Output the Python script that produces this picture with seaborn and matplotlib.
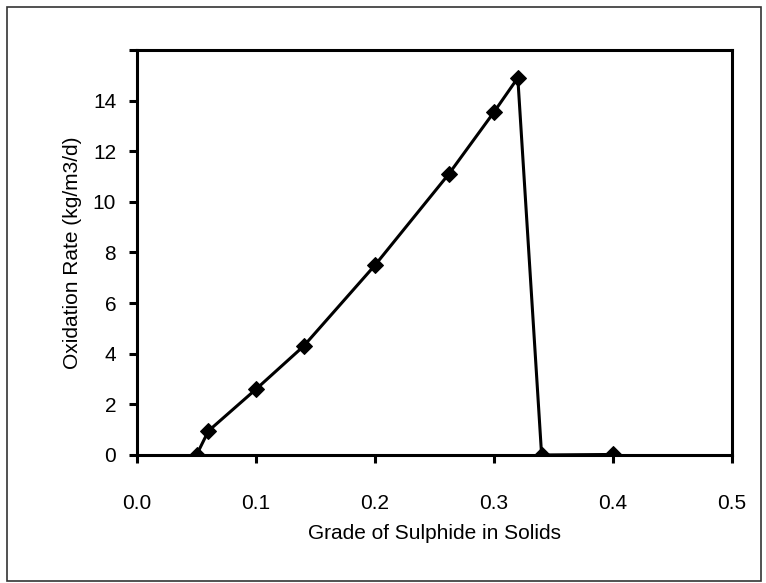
import numpy as np
import pandas as pd
import matplotlib
matplotlib.use('Agg')
import matplotlib.pyplot as plt
import matplotlib.patches as patches
import seaborn as sns

# values
grade = [0.05, 0.06, 0.10, 0.14, 0.20, 0.262, 0.30, 0.32, 0.34, 0.40]
rate = [0.0, 0.95, 2.6, 4.3, 7.5, 11.1, 13.55, 14.9, 0.0, 0.02]
xticks = [0.0, 0.1, 0.2, 0.3, 0.4, 0.5]
yticks = [0, 2, 4, 6, 8, 10, 12, 14, 16]
ytick_labels = ['0', '2', '4', '6', '8', '10', '12', '14', '']

df = pd.DataFrame({'grade': grade, 'rate': rate})

sns.set_style("white")
plt.rcParams['font.family'] = ['Liberation Sans', 'DejaVu Sans']
plt.rcParams['text.color'] = 'black'
plt.rcParams['axes.labelcolor'] = 'black'

fig = plt.figure(figsize=(7.66, 5.83), dpi=100)
ax = fig.add_axes([0.1789, 0.2196, 0.9556 - 0.1789, 0.9142 - 0.2196])

sns.lineplot(data=df, x='grade', y='rate', sort=False, estimator=None,
             color='black', linewidth=2.2, marker='D', markersize=8,
             markeredgecolor='black', ax=ax)

ax.set_xlim(0, 0.5)
ax.set_ylim(0, 16)
ax.set_xticks(xticks)
ax.set_xticklabels(['%.1f' % t for t in xticks])
ax.set_yticks(yticks)
ax.set_yticklabels(ytick_labels)

for loc, spine in ax.spines.items():
    spine.set_linewidth(2.2)
    spine.set_color('black')

ax.tick_params(axis='both', direction='out', length=6, width=2.2,
               color='black', labelsize=15, labelcolor='black')
ax.tick_params(axis='x', pad=22, bottom=True)
ax.tick_params(axis='y', pad=9, left=True)

ax.set_xlabel('Grade of Sulphide in Solids', fontsize=15, labelpad=8,
              color='black')
ax.set_ylabel('Oxidation Rate (kg/m3/d)', fontsize=15, labelpad=8,
              color='black')

# outer chart border
fig.patches.append(patches.Rectangle((0.009, 0.003), 0.985, 0.985,
                                     transform=fig.transFigure, fill=False,
                                     edgecolor='#333333', linewidth=1.2))

fig.savefig('out.png', dpi=100)
